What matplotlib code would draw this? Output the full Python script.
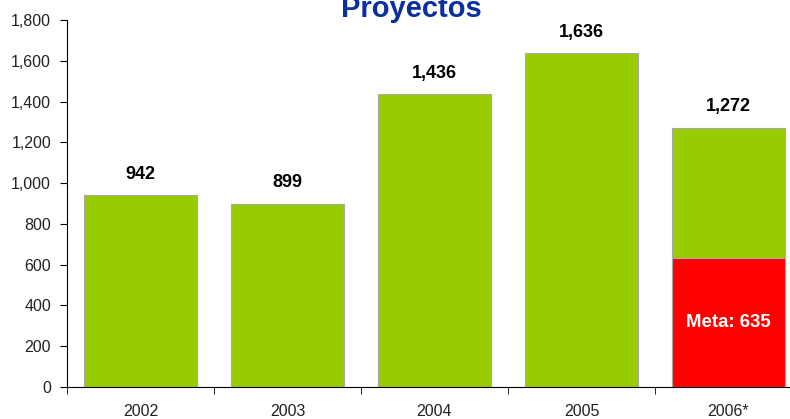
import matplotlib
matplotlib.use("Agg")
import matplotlib.pyplot as plt

# dados
anos = ["2002", "2003", "2004", "2005", "2006*"]
proyectos = [942, 899, 1436, 1636, 1272]
meta_2006 = 635
y_ticks = [0, 200, 400, 600, 800, 1000, 1200, 1400, 1600, 1800]

plt.rcParams['font.family'] = ['Liberation Sans', 'DejaVu Sans']

fig = plt.figure(figsize=(7.9, 4.19), dpi=100)
ax = fig.add_axes([67 / 790, 32 / 419, 735 / 790, 367 / 419])

verde = "#99CC00"
vermelho = "#FF0000"
borda = "#A8A8A8"

x = list(range(len(anos)))
ax.bar(x, proyectos, width=0.77, color=verde, edgecolor=borda, linewidth=0.8, zorder=2)

# parte da meta em 2006
ax.bar(x[-1], meta_2006, width=0.77, color=vermelho, edgecolor=borda, linewidth=0.8, zorder=3)
ax.text(x[-1], meta_2006 / 2, f"Meta: {meta_2006}", ha="center", va="center",
        color="white", fontsize=13.4, fontweight="bold", zorder=4)

for xi, v in zip(x, proyectos):
    ax.annotate(f"{v:,}", (xi, v), xytext=(0, 15), textcoords="offset points",
                ha="center", va="center", fontsize=13, fontweight="bold", color="black")

ax.set_xlim(-0.5, len(anos) - 0.5)
ax.set_ylim(0, 1800)
ax.set_yticks(y_ticks)
ax.set_yticklabels([f"{v:,}" for v in y_ticks])

ax.set_xticks(x)
ax.set_xticklabels(anos)
ax.set_xticks([i - 0.5 for i in range(len(anos) + 1)], minor=True)
ax.tick_params(axis="x", which="major", length=0, pad=12, labelsize=11.5, colors="#222222")
ax.tick_params(axis="x", which="minor", length=5, direction="out", color="black")
ax.tick_params(axis="y", length=5, direction="out", pad=6.5, labelsize=11.5, labelcolor="#222222")

for lado in ["top", "right"]:
    ax.spines[lado].set_visible(False)
ax.spines["left"].set_color("black")
ax.spines["bottom"].set_color("black")

fig.text(411 / 790, (419 - 17) / 419, "Proyectos", ha="center", va="baseline",
         fontsize=21, fontweight="bold", color="#0A2F9E")

fig.savefig("out.png", dpi=100)
